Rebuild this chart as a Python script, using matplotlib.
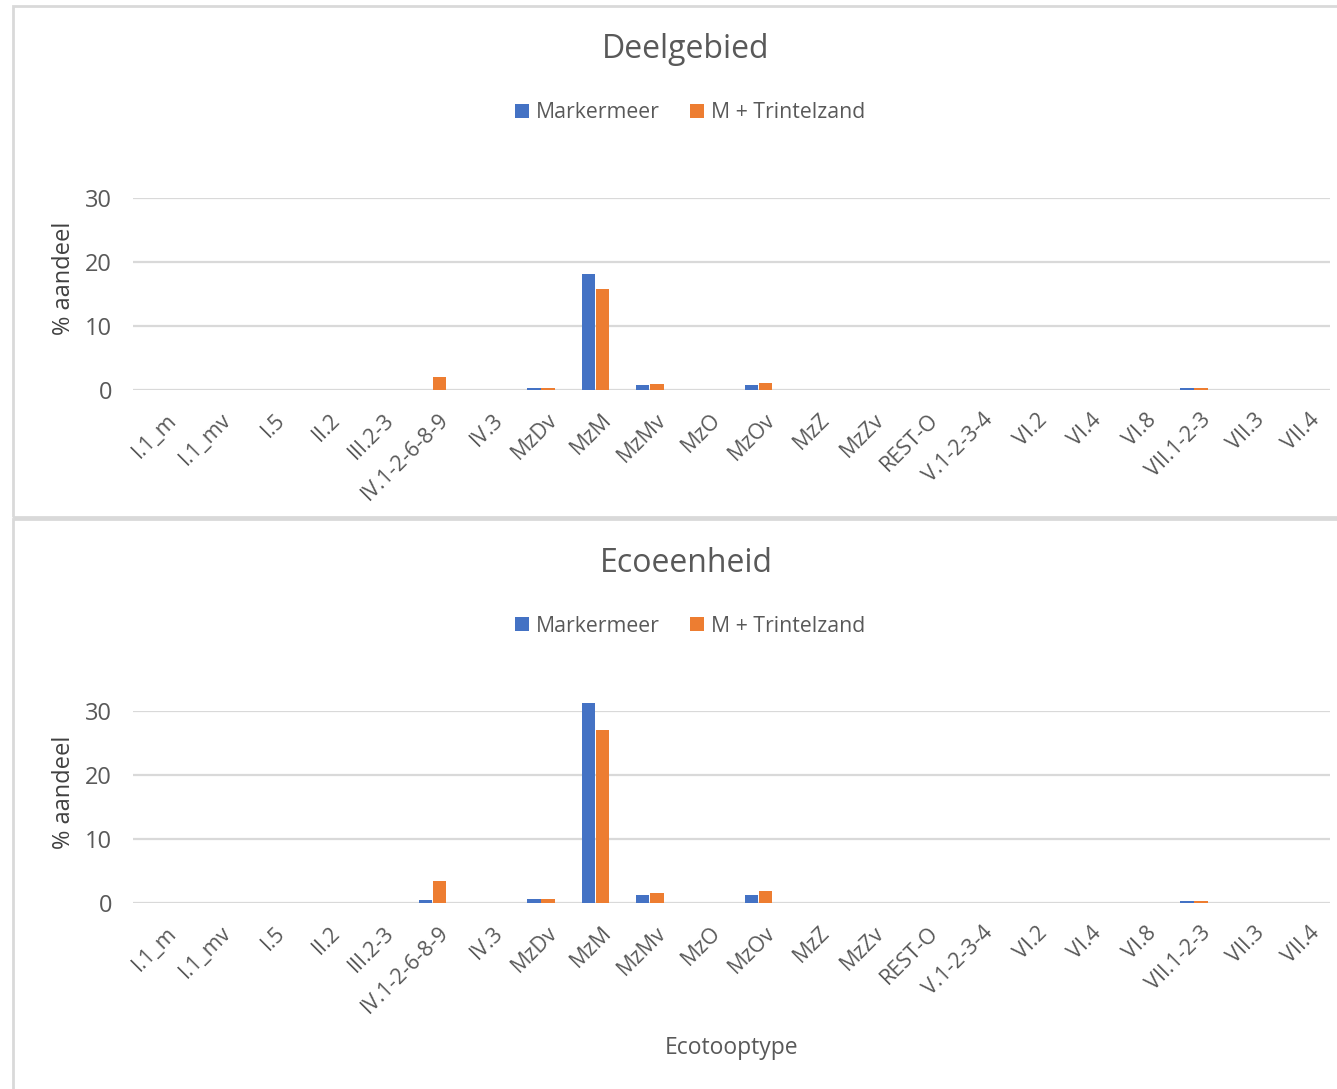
import matplotlib
matplotlib.use("Agg")
import matplotlib.pyplot as plt
import matplotlib.transforms as mtransforms
import numpy as np
from matplotlib.patches import Rectangle

categories = ["I.1_m", "I.1_mv", "I.5", "II.2", "III.2-3", "IV.1-2-6-8-9", "IV.3",
              "MzDv", "MzM", "MzMv", "MzO", "MzOv", "MzZ", "MzZv", "REST-O",
              "V.1-2-3-4", "VI.2", "VI.4", "VI.8", "VII.1-2-3", "VII.3", "VII.4"]

deel_markermeer = [0, 0, 0, 0, 0, 0.0, 0, 0.35, 18.1, 0.8, 0, 0.8, 0, 0, 0, 0, 0, 0, 0, 0.3, 0, 0]
deel_trintelzand = [0, 0, 0, 0, 0, 2.0, 0, 0.3, 15.8, 0.95, 0, 1.15, 0, 0, 0, 0, 0, 0, 0, 0.3, 0, 0]

eco_markermeer = [0, 0, 0, 0, 0, 0.4, 0, 0.6, 31.2, 1.25, 0, 1.25, 0, 0, 0, 0, 0, 0, 0, 0.3, 0, 0]
eco_trintelzand = [0, 0, 0, 0, 0, 3.4, 0, 0.55, 27.0, 1.6, 0, 1.8, 0, 0, 0, 0, 0, 0, 0, 0.3, 0, 0]

series_names = ["Markermeer", "M + Trintelzand"]
titles = ["Deelgebied", "Ecoeenheid"]
yticks = [0, 10, 20, 30]

BLUE = "#4472C4"
ORANGE = "#ED7D31"
TXT = "#595959"
GRID = "#D9D9D9"

plt.rcParams['font.family'] = ['Open Sans', 'DejaVu Sans']

W, H = 1337, 1089
fig = plt.figure(figsize=(W / 100, H / 100), dpi=100)

# chart frames
fig.patches.append(Rectangle((13 / W, 1 - 517 / H), 1.2, (517 - 6) / H, transform=fig.transFigure,
                             fill=False, edgecolor=GRID, linewidth=2))
fig.patches.append(Rectangle((13 / W, 1 - 1100 / H), 1.2, (1100 - 519) / H, transform=fig.transFigure,
                             fill=False, edgecolor=GRID, linewidth=2))

def px_axes(x0, y0, x1, y1):
    return fig.add_axes([x0 / W, 1 - y1 / H, (x1 - x0) / W, (y1 - y0) / H])

panels = [
    (deel_markermeer, deel_trintelzand, 198, 390, 50, 113, 278),
    (eco_markermeer, eco_trintelzand, 711, 903, 563, 626, 792),
]

x = np.arange(len(categories))
bw = 0.245
shift = mtransforms.ScaledTranslation(6 / 100, 0, fig.dpi_scale_trans)
for i, (m, t, ytop, ybot, ty, ly, ylab) in enumerate(panels):
    ax = px_axes(133, ytop, 1330, ybot)
    b1 = ax.bar(x - 0.13, m, width=bw, color=BLUE, zorder=3, label=series_names[0])
    b2 = ax.bar(x + 0.13, t, width=bw, color=ORANGE, zorder=3, label=series_names[1])
    for b in list(b1) + list(b2):
        b.set_clip_on(False)
    ax.set_xlim(-0.5, len(categories) - 0.5)
    ax.set_ylim(0, 30)
    ax.set_yticks(yticks)
    ax.set_yticklabels([str(v) for v in yticks], fontsize=17, color=TXT)
    ax.yaxis.grid(True, color=GRID, linewidth=1.6, zorder=0)
    ax.set_axisbelow(True)
    for s in ax.spines.values():
        s.set_visible(False)
    ax.tick_params(axis='both', length=0)
    ax.tick_params(axis='y', pad=15)
    ax.set_xticks(x)
    ax.set_xticklabels(categories, rotation=45, ha='right', va='top', rotation_mode='anchor',
                       fontsize=15.5, color=TXT)
    ax.tick_params(axis='x', pad=14)
    for lab in ax.get_xticklabels():
        lab.set_transform(lab.get_transform() + shift)
    fig.text(686 / W, 1 - ty / H, titles[i], ha='center', va='center', fontsize=23, color=TXT)
    fig.text(64 / W, 1 - ylab / H, "% aandeel", ha='center', va='center', rotation=90,
             fontsize=17, color="#404040")
    leg = fig.legend(handles=[b1, b2], labels=series_names, loc='center',
                     bbox_to_anchor=(690 / W, 1 - ly / H), ncol=2, frameon=False,
                     fontsize=15.3, handlelength=0.65, handleheight=0.65, handletextpad=0.35,
                     columnspacing=1.4, labelcolor=TXT)

fig.text(732 / W, 1 - 1048 / H, "Ecotooptype", ha='center', va='center', fontsize=16.5, color=TXT)

fig.savefig("out.png", dpi=100, facecolor="white")
